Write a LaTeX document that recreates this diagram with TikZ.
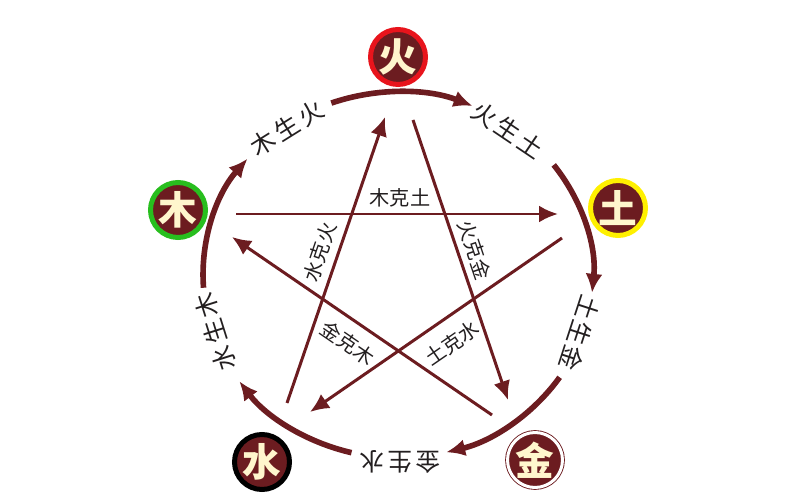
\documentclass[tikz,border=0pt]{standalone}
\usepackage{fontspec}
\newfontfamily\cjk{Noto Sans CJK SC}
\usepackage{tikz}
\usetikzlibrary{arrows.meta}
\definecolor{maroon}{RGB}{108,28,32}
\definecolor{cream}{RGB}{255,246,205}
\definecolor{ink}{RGB}{35,31,32}
\definecolor{firered}{RGB}{232,20,28}
\definecolor{woodgreen}{RGB}{40,190,30}
\definecolor{earthyellow}{RGB}{255,240,0}

\begin{document}
\begin{tikzpicture}[x=0.02cm,y=0.02cm]
\tikzset{>={Latex[width=3.4mm,length=3.8mm]}}
\tikzstyle{element} =[circle, fill = maroon, line width=1mm, minimum size=1.1cm, inner sep=0pt, text=cream, font=\cjk\bfseries\fontsize{22}{22}\selectfont]
\tikzstyle{sheng} =[text=ink, inner sep=0pt, font=\cjk\fontsize{14}{14}\selectfont]
\tikzstyle{ke} =[text=ink, inner sep=0pt, font=\cjk\fontsize{11.5}{12}\selectfont]
\tikzstyle{shengline} =[->, draw=maroon, line width=3.2pt]
\tikzstyle{keline} =[->, draw=maroon, line width=1.7pt]

\useasboundingbox (0,0) rectangle (800,500);

\node[element,draw=firered](huo) at (398,443){火};
\node[element,draw=earthyellow](tu) at (618,292){土};
\node[element,draw=maroon,line width=0.5pt,double=white,double distance=0.6mm](jin) at (535,40){金};
\node[element,draw=black](shui) at (262,38){水};
\node[element,draw=woodgreen](mu) at (178,290){木};

\coordinate (o) at (398,225);

% sheng cycle
\draw [shengline] (o) ++(110:3.9cm and 3.66cm) arc[start angle=110, end angle=67.5, x radius=3.9cm, y radius=3.66cm];
\draw [shengline] (o) ++(37:3.9cm and 3.66cm) arc[start angle=37, end angle=-5.6, x radius=3.9cm, y radius=3.66cm];
\draw [shengline] (o) ++(-34:3.9cm and 3.66cm) arc[start angle=-34, end angle=-75.7, x radius=3.9cm, y radius=3.66cm];
\draw [shengline] (o) ++(-103.8:3.9cm and 3.66cm) arc[start angle=-103.8, end angle=-144.5, x radius=3.9cm, y radius=3.66cm];
\draw [shengline] (o) ++(184:3.9cm and 3.66cm) arc[start angle=184, end angle=140.5, x radius=3.9cm, y radius=3.66cm];

\node[sheng,rotate=32](s1) at (287,372){木\hspace{2pt}生\hspace{2pt}火};
\node[sheng,rotate=-34](s2) at (508,370){火\hspace{2pt}生\hspace{2pt}土};
\node[sheng,rotate=-108](s3) at (580,167){土\hspace{1pt}生\hspace{1pt}金};
\node[sheng,rotate=180](s4) at (400,38){金\hspace{2pt}生\hspace{2pt}水};
\node[sheng,rotate=107.5](s5) at (215,168){水\hspace{2pt}生\hspace{2pt}木};

% ke star
\coordinate (mu1) at (236,286);
\coordinate (tu1) at (558,286);
\coordinate (huo1) at (413,380);
\coordinate (jin1) at (508,100);
\coordinate (jin2) at (492,85);
\coordinate (mu2) at (232,263);
\coordinate (tu2) at (562,262);
\coordinate (shui1) at (310,88);
\coordinate (shui2) at (287,97);
\coordinate (huo2) at (385,383);

\draw [keline] (mu1) to (tu1);
\draw [keline] (huo1) to (jin1);
\draw [keline] (jin2) to (mu2);
\draw [keline] (tu2) to (shui1);
\draw [keline] (shui2) to (huo2);

\node[ke](k1) at (400,302){木克土};
\node[ke,rotate=-71.3](k2) at (475,250){火克金};
\node[ke,rotate=-34.4](k3) at (348,157){金克木};
\node[ke,rotate=34.6](k4) at (452,157){土克水};
\node[ke,rotate=71.1](k5) at (320,248){水克火};
\end{tikzpicture}
\end{document}
